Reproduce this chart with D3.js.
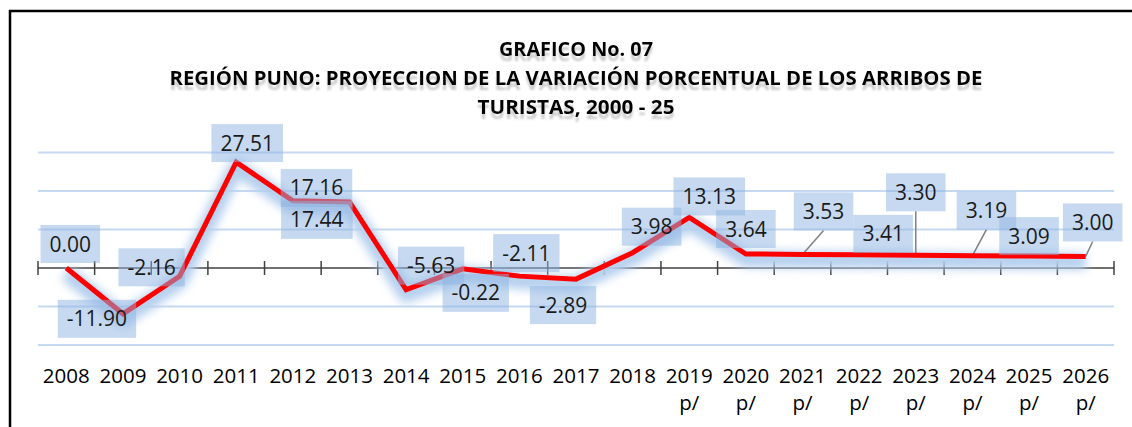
<!DOCTYPE html>
<html>
<head>
<meta charset="utf-8">
<script src="https://cdn.jsdelivr.net/npm/d3@7"></script>
<style>
  body { margin: 0; background: #fff; }
  svg { display: block; }
</style>
</head>
<body>
<script>
// data
const years = ["2008","2009","2010","2011","2012","2013","2014","2015","2016","2017",
               "2018","2019","2020","2021","2022","2023","2024","2025","2026"];
const projMark = ["","","","","","","","","","","","p/","p/","p/","p/","p/","p/","p/","p/"];
const values = [0.00, -11.90, -2.16, 27.51, 17.44, 17.16, -5.63, -0.22, -2.11, -2.89,
                3.98, 13.13, 3.64, 3.53, 3.41, 3.30, 3.19, 3.09, 3.00];
const gridValues = [-20, -10, 10, 20, 30];
const titleLines = ["GRAFICO No. 07",
                    "REGIÓN PUNO: PROYECCION DE LA VARIACIÓN PORCENTUAL DE LOS ARRIBOS DE",
                    "TURISTAS, 2000 - 25"];

// layout: where each label box sits relative to its point (moved by hand in the original)
const labelOffsets = [[4,-24],[-26,5],[-28,-9],[11,-19],[24,19],[-33,-14],[25,-24],[13,24],
                      [7,-23],[-13,26],[19,-26],[20,-21],[0,-25],[21,-43],[24,-21],[0,-63],
                      [14,-45],[0,-20],[7,-34]];
const titleWidths = [154, 813, 197];
const titleY = [56, 85, 114];

const width = 1132, height = 427;
const font = "'Open Sans', 'Liberation Sans', sans-serif";

const svg = d3.select("body").append("svg")
    .attr("width", width)
    .attr("height", height);

const defs = svg.append("defs");
defs.append("filter").attr("id", "glow")
    .attr("x", "-10%").attr("y", "-50%").attr("width", "120%").attr("height", "200%")
  .append("feGaussianBlur").attr("stdDeviation", 5);

// soft grey echo under the title letters
const sh = defs.append("filter").attr("id", "echo")
    .attr("x", "-5%").attr("y", "-20%").attr("width", "110%").attr("height", "160%");
sh.append("feGaussianBlur").attr("in", "SourceAlpha").attr("stdDeviation", 1.2).attr("result", "b");
sh.append("feOffset").attr("in", "b").attr("dy", 5).attr("result", "o");
sh.append("feFlood").attr("flood-color", "#888").attr("flood-opacity", 0.45).attr("result", "c");
sh.append("feComposite").attr("in", "c").attr("in2", "o").attr("operator", "in").attr("result", "s");
const mg = sh.append("feMerge");
mg.append("feMergeNode").attr("in", "s");
mg.append("feMergeNode").attr("in", "SourceGraphic");

// frame
svg.append("rect")
    .attr("x", 10).attr("y", 11)
    .attr("width", 1140).attr("height", 440)
    .attr("fill", "none")
    .attr("stroke", "#000")
    .attr("stroke-width", 2.5);

// title
titleLines.forEach((t, i) => {
    svg.append("text")
        .attr("x", 576).attr("y", titleY[i])
        .attr("text-anchor", "middle")
        .attr("font-family", font).attr("font-weight", "bold").attr("font-size", 20)
        .attr("textLength", titleWidths[i]).attr("lengthAdjust", "spacingAndGlyphs")
        .attr("fill", "#000")
        .attr("filter", "url(#echo)")
        .text(t);
});

// scales
const x = d3.scaleBand().domain(years).range([38, 1114]).padding(0);
const y = d3.scaleLinear().domain([-20, 30]).range([345, 152.5]);
const cx = d => x(d) + x.bandwidth() / 2;

// gridlines
svg.append("g").selectAll("line").data(gridValues).join("line")
    .attr("x1", 38).attr("x2", 1114)
    .attr("y1", d => y(d)).attr("y2", d => y(d))
    .attr("stroke", "#c5d9f1").attr("stroke-width", 2);

// zero axis with category boundary ticks
const axisY = y(0);
svg.append("line")
    .attr("x1", 38).attr("x2", 1114)
    .attr("y1", axisY).attr("y2", axisY)
    .attr("stroke", "#404040").attr("stroke-width", 1.5);
const bounds = years.map(d => x(d)).concat([x.range()[1]]);
svg.append("g").selectAll("line").data(bounds).join("line")
    .attr("x1", d => d).attr("x2", d => d)
    .attr("y1", axisY - 7).attr("y2", axisY + 7)
    .attr("stroke", "#404040").attr("stroke-width", 1.5);

// category labels
const cat = svg.append("g").selectAll("text").data(years).join("text")
    .attr("x", d => cx(d))
    .attr("y", 383)
    .attr("text-anchor", "middle")
    .attr("font-family", font).attr("font-size", 20.5)
    .attr("fill", "#000");
cat.append("tspan").attr("x", d => cx(d)).text(d => d);
cat.append("tspan").attr("x", d => cx(d)).attr("dy", 27).text((d, i) => projMark[i]);

// line
const pts = years.map((d, i) => [cx(d), y(values[i])]);
const line = d3.line();
svg.append("path")
    .attr("d", line(pts))
    .attr("transform", "translate(0,5)")
    .attr("fill", "none")
    .attr("stroke", "#b4cfee")
    .attr("stroke-width", 16)
    .attr("stroke-linejoin", "round")
    .attr("filter", "url(#glow)");

// leader lines for labels that were pulled away from their points
const boxH = 38;
years.forEach((d, i) => {
    const [px, py] = pts[i];
    const bx = px + labelOffsets[i][0], by = py + labelOffsets[i][1];
    if (by + boxH / 2 < py - 10) {
        svg.append("line")
            .attr("x1", bx).attr("y1", by + boxH / 2)
            .attr("x2", px).attr("y2", py)
            .attr("stroke", "#808080").attr("stroke-width", 1.5);
    }
});

svg.append("path")
    .attr("d", line(pts))
    .attr("fill", "none")
    .attr("stroke", "#ff0000")
    .attr("stroke-width", 5)
    .attr("stroke-linejoin", "miter");

// data labels
years.forEach((d, i) => {
    const [px, py] = pts[i];
    const g = svg.append("g")
        .attr("transform", `translate(${px + labelOffsets[i][0]},${py + labelOffsets[i][1]})`);
    const rect = g.append("rect");
    const txt = g.append("text")
        .attr("text-anchor", "middle")
        .attr("dy", "0.36em")
        .attr("font-family", font).attr("font-size", 21)
        .attr("fill", "#1a1a1a")
        .text(values[i].toFixed(2));
    const w = txt.node().getComputedTextLength() + 18;
    rect.attr("x", -w / 2).attr("y", -boxH / 2)
        .attr("width", w).attr("height", boxH)
        .attr("fill", "#8db4e2").attr("opacity", 0.5);
});
</script>
</body>
</html>
